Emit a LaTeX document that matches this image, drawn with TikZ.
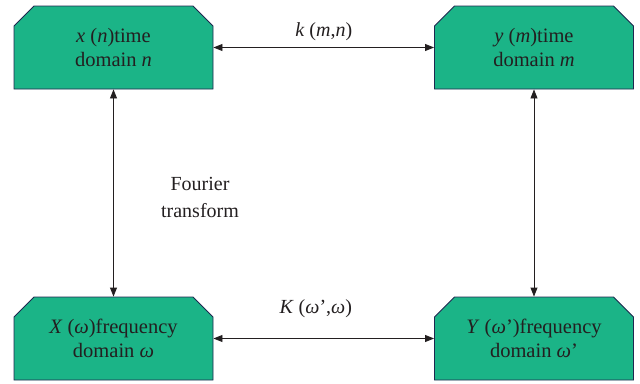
\documentclass[tikz,border=0pt]{standalone}
\usepackage{fontspec}
\setmainfont{Liberation Serif}
\usetikzlibrary{shapes.misc,arrows.meta}
\definecolor{boxfill}{RGB}{27,180,135}
\definecolor{boxline}{RGB}{30,40,80}
\definecolor{ink}{RGB}{35,31,32}
\tikzset{
  dombox/.style={chamfered rectangle, chamfered rectangle corners={north east,north west},
    chamfered rectangle xsep=10pt, chamfered rectangle ysep=10pt,
    minimum width=199pt, minimum height=83pt, inner sep=0pt,
    fill=boxfill, draw=boxline, line width=0.9pt, align=center, text=ink,
    font=\fontsize{20.5}{24}\selectfont},
  link/.style={{Triangle[length=9pt,width=7pt]}-{Triangle[length=9pt,width=7pt]}, line width=0.9pt, draw=ink},
  lab/.style={text=ink, font=\fontsize{20}{27}\selectfont, align=center}
}
\begin{document}
\begin{tikzpicture}[x=1pt,y=-1pt]
\useasboundingbox (0,0) rectangle (640,383);
\node[dombox] (xn) at (113.5,47.5) {\textit{x} (\textit{n})time\\domain \textit{n}};
\node[dombox] (ym) at (534,47.5) {\textit{y} (\textit{m})time\\domain \textit{m}};
\node[dombox] (Xw) at (113.5,338.5) {\textit{X} (\textit{ω})frequency\\domain \textit{ω}};
\node[dombox] (Yw) at (534,338.5) {\textit{Y} (\textit{ω}’)frequency\\domain \textit{ω}’};
\draw[link] (xn.east) -- (ym.west) node[lab, midway, above=3pt] (k) {\textit{k} (\textit{m},\textit{n})};
\draw[link] (Xw.east) -- (Yw.west) node[lab, midway, above=17pt, xshift=-8pt] (K) {\textit{K} (\textit{ω}’,\textit{ω})};
\draw[link] (xn.south) -- (Xw.north);
\draw[link] (ym.south) -- (Yw.north);
\node[lab] (ft) at (200,197) {Fourier\\transform};
\end{tikzpicture}
\end{document}
